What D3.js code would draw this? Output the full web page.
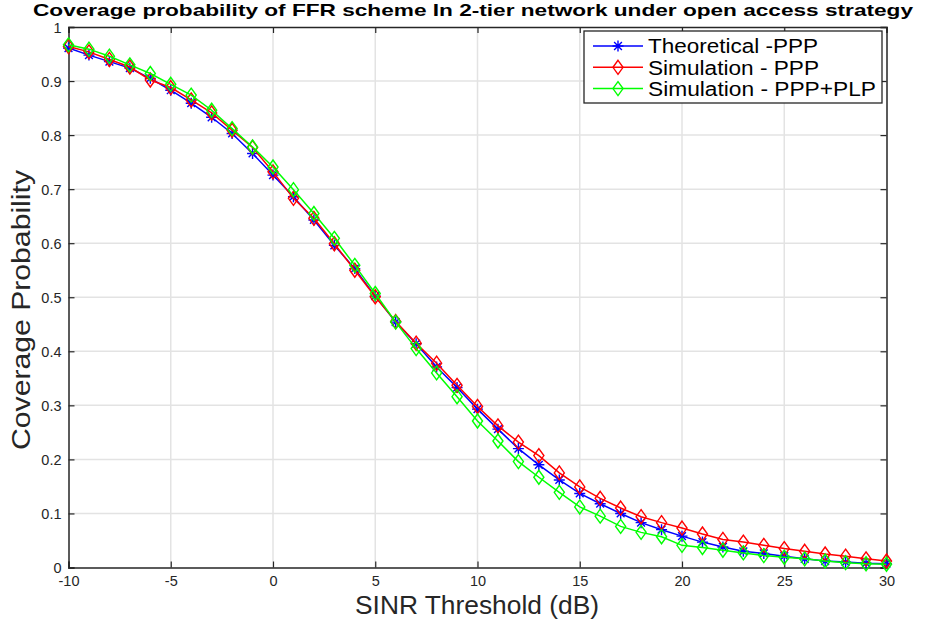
<!DOCTYPE html>
<html><head><meta charset="utf-8">
<script src="https://cdn.jsdelivr.net/npm/d3@7"></script>
<style>body{margin:0;background:#fff;} svg{display:block;font-family:"Liberation Sans",Arial,sans-serif;}</style>
</head><body>
<svg id="chart" width="931" height="624"></svg>
<script>
const snr = d3.range(-10, 31, 1);
const theoretical = [0.961,0.948,0.936,0.924,0.905,0.883,0.859,0.833,0.803,0.766,0.726,0.686,0.643,0.596,0.553,0.502,0.454,0.414,0.371,0.333,0.293,0.256,0.220,0.190,0.162,0.137,0.118,0.100,0.083,0.070,0.058,0.047,0.038,0.030,0.026,0.021,0.016,0.012,0.010,0.008,0.007];
const simPPP = [0.964,0.954,0.940,0.926,0.902,0.888,0.865,0.841,0.809,0.777,0.732,0.683,0.646,0.599,0.550,0.501,0.455,0.415,0.378,0.337,0.298,0.262,0.232,0.207,0.175,0.149,0.128,0.110,0.094,0.083,0.073,0.062,0.052,0.047,0.041,0.035,0.030,0.025,0.021,0.016,0.012];
const simPLP = [0.967,0.959,0.946,0.930,0.914,0.894,0.874,0.846,0.812,0.778,0.741,0.699,0.655,0.609,0.559,0.507,0.454,0.405,0.360,0.316,0.271,0.234,0.196,0.167,0.139,0.112,0.095,0.076,0.065,0.057,0.041,0.037,0.032,0.027,0.022,0.019,0.016,0.012,0.009,0.007,0.006];
const xTicks = [-10,-5,0,5,10,15,20,25,30];
const yTicks = [0,0.1,0.2,0.3,0.4,0.5,0.6,0.7,0.8,0.9,1];
const seriesNames = ["Theoretical -PPP","Simulation - PPP","Simulation - PPP+PLP"];
const seriesColors = ["#0000ff","#ff0000","#00ff00"];
const seriesMarkers = ["star","diamond","diamond"];
const title = "Coverage probability of FFR scheme In 2-tier network under open access strategy";

const svg = d3.select("#chart");
const L=68.5, R=886.5, T=27, B=567.5;
const x = d3.scaleLinear().domain([-10,30]).range([L,R]);
const y = d3.scaleLinear().domain([0,1]).range([B,T]);

// grid
svg.append("g").selectAll("line").data(xTicks.slice(1,-1)).join("line")
  .attr("x1",d=>x(d)).attr("x2",d=>x(d)).attr("y1",T).attr("y2",B)
  .attr("stroke","#e3e3e3").attr("stroke-width",1.5);
svg.append("g").selectAll("line").data(yTicks.slice(1,-1)).join("line")
  .attr("y1",d=>y(d)).attr("y2",d=>y(d)).attr("x1",L).attr("x2",R)
  .attr("stroke","#e3e3e3").attr("stroke-width",1.5);

// axes
const fmt = d=>String(d);
const axB = svg.append("g").attr("transform",`translate(0,${B})`)
  .call(d3.axisBottom(x).tickValues(xTicks).tickSize(-6).tickPadding(8).tickFormat(fmt));
const axT = svg.append("g").attr("transform",`translate(0,${T})`)
  .call(d3.axisTop(x).tickValues(xTicks).tickSize(-6).tickFormat(""));
const axL = svg.append("g").attr("transform",`translate(${L},0)`)
  .call(d3.axisLeft(y).tickValues(yTicks).tickSize(-6).tickPadding(7).tickFormat(fmt));
const axR = svg.append("g").attr("transform",`translate(${R},0)`)
  .call(d3.axisRight(y).tickValues(yTicks).tickSize(-6).tickFormat(""));
[axB,axT,axL,axR].forEach(a=>{
  a.select(".domain").attr("stroke","#262626").attr("stroke-width",1.5);
  a.selectAll(".tick line").attr("stroke","#262626").attr("stroke-width",1.2);
  a.selectAll("text").attr("font-size",14.5).attr("fill","#262626").attr("font-family","Liberation Sans, Arial, sans-serif");
});
axL.selectAll(".tick text").attr("dy","0.37em");
axB.selectAll(".tick text").attr("dy","0.74em");

// lines and markers
const allData = [theoretical, simPPP, simPLP];
const line = d3.line().x((d,i)=>x(snr[i])).y(d=>y(d));
const starPath = r => {
  const a = r*0.707;
  return `M${-r},0L${r},0M0,${-r}L0,${r}M${-a},${-a}L${a},${a}M${-a},${a}L${a},${-a}`;
};
const diamondPath = r => `M0,${-r}L${r*0.72},0L0,${r}L${-r*0.72},0Z`;
allData.forEach((data,k)=>{
  const g = svg.append("g");
  g.append("path").datum(data).attr("d",line).attr("fill","none")
    .attr("stroke",seriesColors[k]).attr("stroke-width",1.5);
  g.selectAll("path.m").data(data).join("path").attr("class","m")
    .attr("transform",(d,i)=>`translate(${x(snr[i])},${y(d)})`)
    .attr("d",seriesMarkers[k]==="star"?starPath(5.5):diamondPath(7))
    .attr("fill","none").attr("stroke",seriesColors[k]).attr("stroke-width",1.4);
});

// title and labels
svg.append("text").attr("x",473).attr("y",15.6).attr("text-anchor","middle")
  .attr("font-size",17).attr("font-weight","bold").attr("fill","#000")
  .attr("textLength",880).attr("lengthAdjust","spacingAndGlyphs").text(title);
svg.append("text").attr("x",477).attr("y",614).attr("text-anchor","middle")
  .attr("font-size",25).attr("fill","#262626")
  .attr("textLength",244).attr("lengthAdjust","spacingAndGlyphs").text("SINR Threshold (dB)");
svg.append("text").attr("transform","translate(30,310) rotate(-90)").attr("text-anchor","middle")
  .attr("font-size",25).attr("fill","#262626")
  .attr("textLength",280).attr("lengthAdjust","spacingAndGlyphs").text("Coverage Probability");

// legend
const legendWidths = [170,171,228];
const lg = svg.append("g").attr("transform","translate(584,31)");
lg.append("rect").attr("width",298).attr("height",72).attr("fill","#fff")
  .attr("stroke","#262626").attr("stroke-width",1.3);
seriesNames.forEach((n,k)=>{
  const yy = 15 + k*21.3;
  lg.append("line").attr("x1",9).attr("x2",59).attr("y1",yy).attr("y2",yy)
    .attr("stroke",seriesColors[k]).attr("stroke-width",1.5);
  lg.append("path").attr("transform",`translate(34,${yy})`)
    .attr("d",seriesMarkers[k]==="star"?starPath(5.5):diamondPath(7))
    .attr("fill","none").attr("stroke",seriesColors[k]).attr("stroke-width",1.4);
  lg.append("text").attr("x",64).attr("y",yy).attr("dy","0.36em")
    .attr("font-size",20).attr("fill","#000")
    .attr("textLength",legendWidths[k]).attr("lengthAdjust","spacingAndGlyphs").text(n);
});
</script>
</body></html>
